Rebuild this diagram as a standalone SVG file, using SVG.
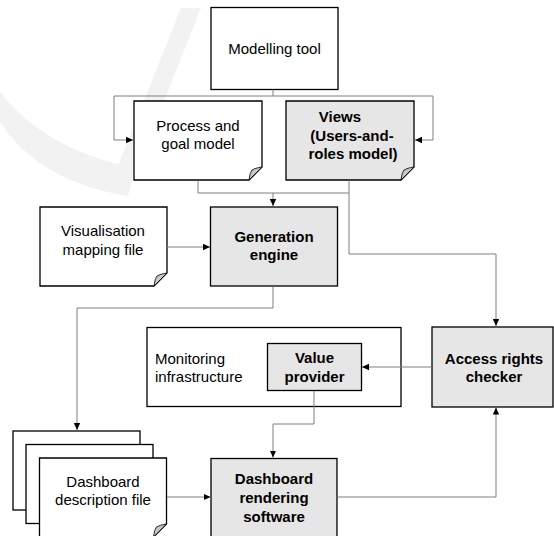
<svg xmlns="http://www.w3.org/2000/svg" width="554" height="536" viewBox="0 0 554 536">
  <style>
    .box { fill: #ffffff; stroke: #000000; stroke-width: 1.3; }
    .gbox { fill: #e6e6e6; stroke: #000000; stroke-width: 1.3; }
    .frame { fill: none; stroke: #000000; stroke-width: 1.3; }
    .fold { fill: #c8c8c8; stroke: #000000; stroke-width: 0.8; }
    .lbl { font-family: "Liberation Sans", Arial, sans-serif; font-size: 15px; fill: #000000; text-anchor: middle; }
    .bold { font-weight: bold; }
    .left { text-anchor: start; }
    .wire { fill: none; stroke: #7f7f7f; stroke-width: 1; }
    .wm { fill: #f2f2f2; stroke: none; }
  </style>
  <defs>
    <marker id="arrow" markerUnits="userSpaceOnUse" markerWidth="8" markerHeight="8" refX="7" refY="4" orient="auto">
      <path d="M0,0.8 L7,4 L0,7.2 Z" fill="#000000"/>
    </marker>
  </defs>

  <rect width="554" height="536" fill="#ffffff"/>

  <!-- faint background mark -->
  <g id="backdrop">
    <polygon class="wm" points="181,8 201,8 130,186 110,186"/>
    <path class="wm" d="M0,92 Q45,150 135,168 L128,196 Q40,182 0,122 Z"/>
  </g>

  <g id="modelling-tool">
    <rect class="box" x="211" y="7.5" width="127" height="82"/>
    <text class="lbl" x="274.5" y="54">Modelling tool</text>
  </g>

  <g id="process-goal-model">
    <path class="box" d="M134,101 H262 V167 L249,180 H134 Z"/>
    <path class="fold" d="M262,167 L249,180 Q250,172 252,170 Q255,168 262,167 Z"/>
    <text class="lbl" x="198" y="131">Process and</text>
    <text class="lbl" x="198" y="149">goal model</text>
  </g>

  <g id="views">
    <path class="gbox" d="M286,101 H414 V167 L401,180 H286 Z"/>
    <path class="fold" d="M414,167 L401,180 Q402,172 404,170 Q407,168 414,167 Z"/>
    <text class="lbl bold" x="340" y="122">Views</text>
    <text class="lbl bold" x="352" y="140.5">(Users-and-</text>
    <text class="lbl bold" x="353" y="159">roles model)</text>
  </g>

  <g id="visualisation-mapping">
    <path class="box" d="M40,207 H167 V273 L154,286 H40 Z"/>
    <path class="fold" d="M167,273 L154,286 Q155,278 157,276 Q160,274 167,273 Z"/>
    <text class="lbl" x="103" y="236">Visualisation</text>
    <text class="lbl" x="103" y="255">mapping file</text>
  </g>

  <g id="generation-engine">
    <rect class="gbox" x="210.5" y="207" width="127" height="79"/>
    <text class="lbl bold" x="274" y="241.5">Generation</text>
    <text class="lbl bold" x="274" y="260">engine</text>
  </g>

  <g id="monitoring-infrastructure">
    <rect class="frame" x="147" y="327.5" width="254" height="79"/>
    <text class="lbl left" x="155" y="364">Monitoring</text>
    <text class="lbl left" x="155" y="382">infrastructure</text>
  </g>

  <g id="value-provider">
    <rect class="gbox" x="267.5" y="343.5" width="94" height="47"/>
    <text class="lbl bold" x="314.5" y="363">Value</text>
    <text class="lbl bold" x="314.5" y="382">provider</text>
  </g>

  <g id="access-rights-checker">
    <rect class="gbox" x="432" y="327" width="121" height="80"/>
    <text class="lbl bold" x="494" y="363.5">Access rights</text>
    <text class="lbl bold" x="494" y="382">checker</text>
  </g>

  <g id="dashboard-description">
    <rect class="box" x="13" y="431" width="127" height="79"/>
    <rect class="box" x="26" y="444.5" width="127" height="79"/>
    <path class="box" d="M39.5,458 H166.5 V524 L153.5,537 H39.5 Z"/>
    <path class="fold" d="M166.5,524 L153.5,537 Q154.5,529 156.5,527 Q159.5,525 166.5,524 Z"/>
    <text class="lbl" x="103" y="487">Dashboard</text>
    <text class="lbl" x="103" y="505">description file</text>
  </g>

  <g id="dashboard-rendering">
    <rect class="gbox" x="211" y="458.5" width="126" height="80"/>
    <text class="lbl bold" x="274" y="484">Dashboard</text>
    <text class="lbl bold" x="274" y="502.5">rendering</text>
    <text class="lbl bold" x="274" y="521.5">software</text>
  </g>

  <!-- connectors, drawn over the boxes -->
  <g id="connectors">
    <path class="wire" d="M273,89.5 V96 H114 V140 H133" marker-end="url(#arrow)"/>
    <path class="wire" d="M273,96 H433 V140 H415" marker-end="url(#arrow)"/>
    <path class="wire" d="M198,180.5 V193 H349"/>
    <path class="wire" d="M273,193 V206" marker-end="url(#arrow)"/>
    <path class="wire" d="M349,180.5 V254 H496 V326" marker-end="url(#arrow)"/>
    <path class="wire" d="M167,247 H210" marker-end="url(#arrow)"/>
    <path class="wire" d="M273,286.5 V308 H77 V430" marker-end="url(#arrow)"/>
    <path class="wire" d="M431.5,367 H362" marker-end="url(#arrow)"/>
    <path class="wire" d="M314,391 V424 H273 V457.5" marker-end="url(#arrow)"/>
    <path class="wire" d="M167,497 H210.5" marker-end="url(#arrow)"/>
    <path class="wire" d="M337.5,497 H496 V407.5" marker-end="url(#arrow)"/>
  </g>
</svg>
